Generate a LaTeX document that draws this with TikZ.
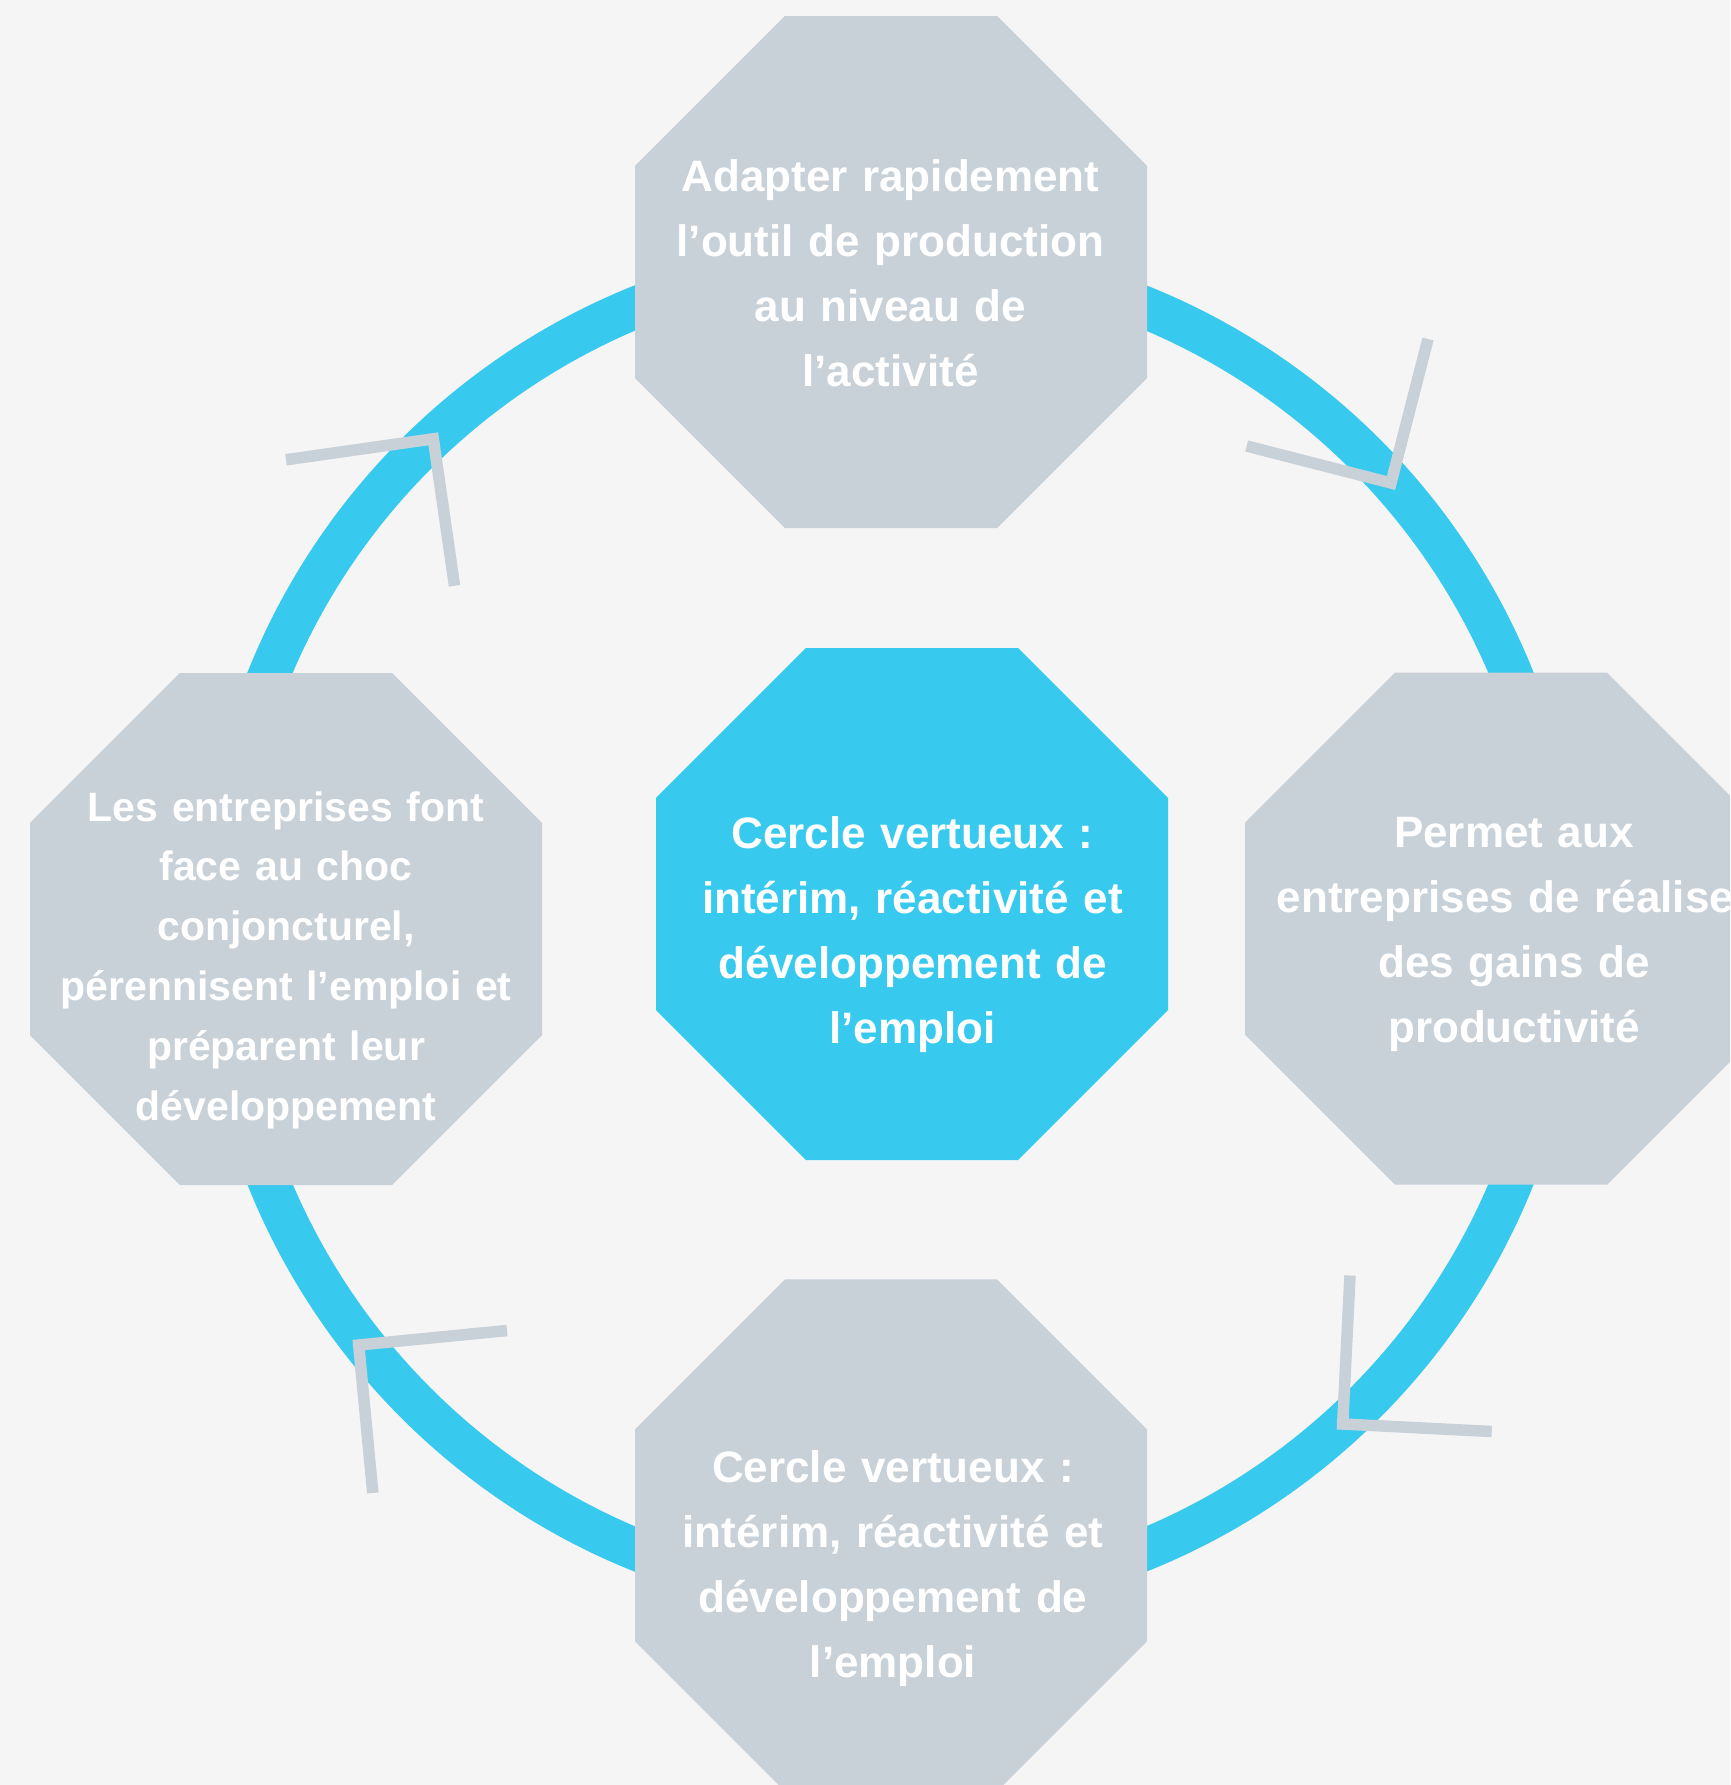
\documentclass[tikz,border=0pt]{standalone}
\usepackage{fontspec}
\setmainfont{Liberation Sans}
\usetikzlibrary{shapes.geometric}
\definecolor{bg}{HTML}{F5F5F5}
\definecolor{cblue}{HTML}{38C9EF}
\definecolor{cgray}{HTML}{C8D0D8}
\begin{document}
\begin{tikzpicture}[x=1pt,y=-1pt,
  oct/.style={regular polygon, regular polygon sides=8, minimum size=554.2pt, inner sep=0pt, draw=none},
  grayoct/.style={oct, fill=cgray},
  blueoct/.style={oct, fill=cblue},
  lbl/.style={text=white, font=\bfseries\fontsize{44}{65}\selectfont, align=center, text width=560pt, inner sep=0pt, anchor=base},
  smalllbl/.style={lbl, font=\bfseries\fontsize{41}{59.8}\selectfont},
  ring/.style={draw=cblue, line width=42pt},
  chev/.style={draw=cgray, line width=11.5pt, miter limit=10}]
\clip (0,0) rectangle (1730,1785);
\fill[bg] (0,0) rectangle (1730,1785);
\coordinate (c) at (890.5,928.5);
\draw[ring] (c) circle[radius=671pt];
% octagons
\node[grayoct] (top) at (891,272) {};
\node[grayoct] (left) at (286,929) {};
\node[grayoct] (right) at (1501,928.7) {};
\node[blueoct] (mid) at (912,904) {};
\node[grayoct] (bottom) at (891,1535.4) {};
% labels
\node[lbl] (toptext) at (890.5,191) {Adapter rapidement\\l’outil de production\\au niveau de\\l’activité};
\node[lbl] (righttext) at (1514,847.5) {Permet aux\\entreprises de réaliser\\des gains de\\productivité};
\node[lbl] (midtext) at (912.5,848) {Cercle vertueux :\\intérim, réactivité et\\développement de\\l’emploi};
\node[lbl] (bottomtext) at (893,1482.6) {Cercle vertueux :\\intérim, réactivité et\\développement de\\l’emploi};
\node[smalllbl] (lefttext) at (286,821) {Les entreprises font\\face au choc\\conjoncturel,\\pérennisent l’emploi et\\préparent leur\\développement};
% chevrons
\coordinate (trA) at (1428,339);
\coordinate (trV) at (1391,483);
\coordinate (trB) at (1246.7,446);
\coordinate (brA) at (1350,1275.5);
\coordinate (brV) at (1342.7,1424);
\coordinate (brB) at (1491.7,1431.5);
\coordinate (blA) at (507,1330.5);
\coordinate (blV) at (358.7,1345);
\coordinate (blB) at (372.8,1493);
\coordinate (tlA) at (286,459.8);
\coordinate (tlV) at (433.3,438.8);
\coordinate (tlB) at (454.5,585.8);
\draw[chev] (trA) -- (trV) -- (trB);
\draw[chev] (brA) -- (brV) -- (brB);
\draw[chev] (blA) -- (blV) -- (blB);
\draw[chev] (tlA) -- (tlV) -- (tlB);
\end{tikzpicture}
\end{document}
